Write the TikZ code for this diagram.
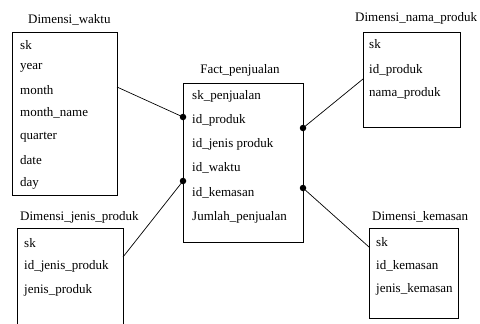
\documentclass[tikz,border=0pt]{standalone}
\usepackage{fontspec}
\setmainfont{Liberation Serif}
\begin{document}
\begin{tikzpicture}[x=1pt,y=-1pt,font=\fontsize{13}{15}\selectfont,
  box/.style={draw,line width=0.8pt,inner sep=0,anchor=north west},
  row/.style={anchor=west,inner sep=0},
  ttl/.style={inner sep=0},
  dot/.style={circle,fill,inner sep=0,minimum size=6.5pt},
  conn/.style={line width=0.7pt}]
\useasboundingbox (0,0) rectangle (480,324);
% Dimensi_waktu
\node[ttl,anchor=west] (tw) at (28,20) {Dimensi\_waktu};
\node[box,minimum width=105pt,minimum height=163pt] (waktu) at (12,32) {};
\node[row] (w1) at (20,45) {sk};
\node[row] (w2) at (20,68) {year};
\node[row] (w3) at (20,90) {month};
\node[row] (w4) at (20,113) {month\_name};
\node[row] (w5) at (20,137) {quarter};
\node[row] (w6) at (20,160) {date};
\node[row] (w7) at (20,183) {day};
% Fact_penjualan
\node[ttl] (tf) at (240,70) {Fact\_penjualan};
\node[box,minimum width=120pt,minimum height=159pt] (fact) at (183,83) {};
\node[row] (f1) at (192,96) {sk\_penjualan};
\node[row] (f2) at (192,120) {id\_produk};
\node[row] (f3) at (192,144) {id\_jenis produk};
\node[row] (f4) at (192,168) {id\_waktu};
\node[row] (f5) at (192,193) {id\_kemasan};
\node[row] (f6) at (192,217) {Jumlah\_penjualan};
% Dimensi_nama_produk
\node[ttl,anchor=west] (tn) at (355,18) {Dimensi\_nama\_produk};
\node[box,minimum width=97pt,minimum height=95pt] (nama) at (363,32) {};
\node[row] (n1) at (369,44) {sk};
\node[row] (n2) at (369,70) {id\_produk};
\node[row] (n3) at (369,93) {nama\_produk};
% Dimensi_jenis_produk
\node[ttl,anchor=west] (tj) at (20,217) {Dimensi\_jenis\_produk};
\node[box,minimum width=106pt,minimum height=110pt] (jenis) at (17,228) {};
\node[row] (j1) at (24,243) {sk};
\node[row] (j2) at (24,266) {id\_jenis\_produk};
\node[row] (j3) at (24,290) {jenis\_produk};
% Dimensi_kemasan
\node[ttl,anchor=west] (tk) at (372,217) {Dimensi\_kemasan};
\node[box,minimum width=89pt,minimum height=90pt] (kemasan) at (369,228) {};
\node[row] (k1) at (376,242) {sk};
\node[row] (k2) at (376,266) {id\_kemasan};
\node[row] (k3) at (376,289) {jenis\_kemasan};
% connector ends
\coordinate (cw) at (117,87);
\coordinate (cj) at (123,257);
\coordinate (cn) at (363,79);
\coordinate (ck) at (369,247);
\node[dot] (d1) at (183,117) {};
\node[dot] (d2) at (183,181) {};
\node[dot] (d3) at (303,128) {};
\node[dot] (d4) at (303,188) {};
\draw[conn] (cw) -- (d1.center);
\draw[conn] (cj) -- (d2.center);
\draw[conn] (cn) -- (d3.center);
\draw[conn] (ck) -- (d4.center);
\end{tikzpicture}
\end{document}
